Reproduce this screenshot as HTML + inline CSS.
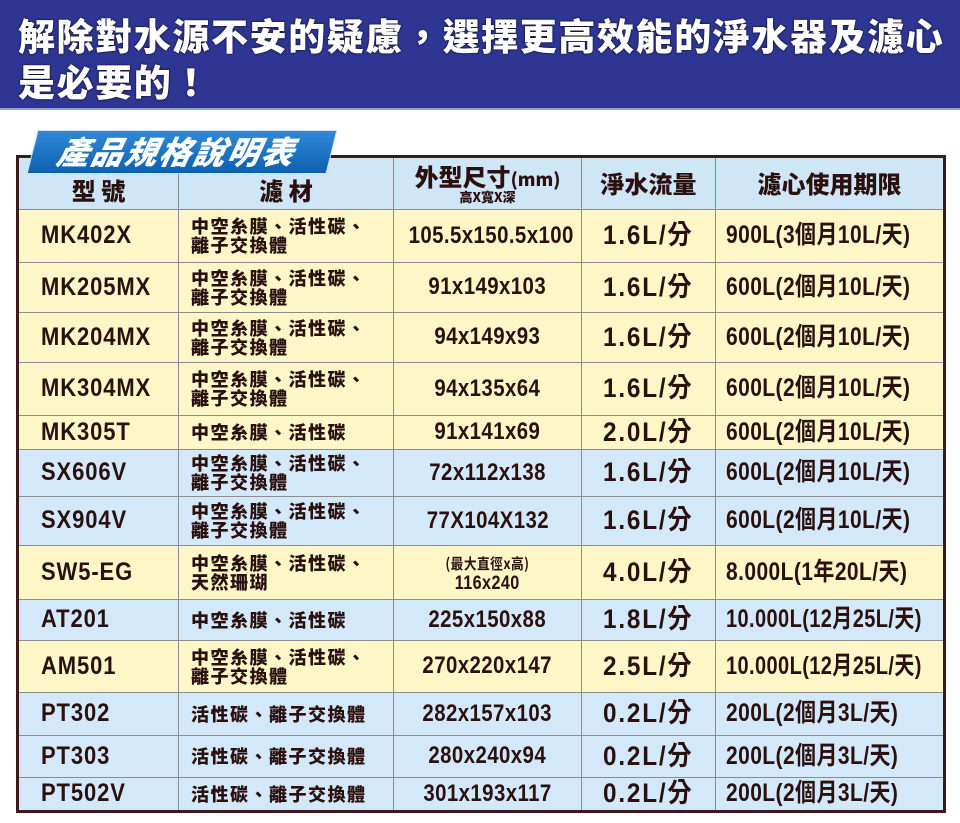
<!DOCTYPE html>
<html><head><meta charset="utf-8">
<style>
*{margin:0;padding:0;box-sizing:border-box}
body{width:960px;height:823px;background:#fff;position:relative;overflow:hidden;font-family:"Liberation Sans","Noto Sans CJK TC",sans-serif;color:#2b1010}
.band{position:absolute;left:0;top:0;width:960px;height:110px;background:#2e3592;border-bottom:2px solid #8fa0d8}
.band div{position:absolute;left:18px;color:#fff;font-family:"Noto Sans CJK TC",sans-serif;font-weight:900;font-size:37px;letter-spacing:1.6px;white-space:nowrap;text-shadow:0 0 2px #000}
.badge{position:absolute;left:32px;top:130px;width:300px;height:44px;background:linear-gradient(#2f8ad8,#0f5fb0);transform:skewX(-14deg);border:1px solid #cfe3f7;z-index:3}
.badgeT{position:absolute;left:58px;top:128px;z-index:4;color:#fff;font-family:"Noto Sans CJK TC",sans-serif;font-weight:900;font-style:italic;font-size:32px;letter-spacing:2px;transform:skewX(-12deg);white-space:nowrap}
table{position:absolute;left:16px;top:155px;width:927px;border-collapse:collapse;border:3px solid #3a1a1a;table-layout:fixed}
td{border:1px solid #8c8c8c;font-weight:bold;white-space:nowrap;overflow:hidden;vertical-align:middle;line-height:1.1}
.h td{background:#cfe6f7;text-align:center;font-family:"Noto Sans CJK TC",sans-serif;font-weight:900;font-size:24px}
.y td{background:#fdf7c8}.b td{background:#d3e8f8}
.m{font-size:25px;padding-left:22px;font-family:"Liberation Sans",sans-serif}
.m span{display:inline-block;transform:scaleX(.88);transform-origin:left center;letter-spacing:1px}
.f{font-size:18px;line-height:19px;padding-left:12px;font-family:"Noto Sans CJK TC",sans-serif;font-weight:900;letter-spacing:1.5px}
.n{text-align:center;font-size:24px}
.n span{display:inline-block;transform:scaleX(.85);letter-spacing:.5px}
.q{text-align:center;font-size:27px;font-family:"Liberation Sans","Noto Sans CJK TC",sans-serif}
.q span{display:inline-block;transform:scaleX(.9);letter-spacing:2px}
.l{font-size:25px;padding-left:10px;font-family:"Liberation Sans","Noto Sans CJK TC",sans-serif}
.l span{display:inline-block;transform:scaleX(.84);transform-origin:left center;letter-spacing:.5px}
.l.w span{transform:scaleX(.8)}
</style></head><body>
<div class="band"><div style="top:7px">解除對水源不安的疑慮，選擇更高效能的淨水器及濾心</div><div style="top:53px">是必要的！</div></div>
<div class="badge"></div><div class="badgeT">產品規格說明表</div>
<table>
<colgroup><col style="width:161px"><col style="width:215px"><col style="width:188px"><col style="width:134px"><col style="width:229px"></colgroup>
<tr class="h" style="height:53px"><td style="padding-top:14px">型 號</td><td style="padding-top:14px">濾 材</td><td style="line-height:22px">外型尺寸<span style="font-size:18px">(mm)</span><br><span style="font-size:13px;line-height:13px;display:block">高X寬X深</span></td><td>淨水流量</td><td>濾心使用期限</td></tr>
<tr class="y" style="height:53px"><td class="m"><span>MK402X</span></td><td class="f">中空糸膜、活性碳、<br>離子交換體</td><td class="n"><span>105.5x150.5x100</span></td><td class="q"><span>1.6L/分</span></td><td class="l"><span>900L(3個月10L/天)</span></td></tr>
<tr class="y" style="height:50px"><td class="m"><span>MK205MX</span></td><td class="f">中空糸膜、活性碳、<br>離子交換體</td><td class="n"><span>91x149x103</span></td><td class="q"><span>1.6L/分</span></td><td class="l"><span>600L(2個月10L/天)</span></td></tr>
<tr class="y" style="height:50px"><td class="m"><span>MK204MX</span></td><td class="f">中空糸膜、活性碳、<br>離子交換體</td><td class="n"><span>94x149x93</span></td><td class="q"><span>1.6L/分</span></td><td class="l"><span>600L(2個月10L/天)</span></td></tr>
<tr class="y" style="height:53px"><td class="m"><span>MK304MX</span></td><td class="f">中空糸膜、活性碳、<br>離子交換體</td><td class="n"><span>94x135x64</span></td><td class="q"><span>1.6L/分</span></td><td class="l"><span>600L(2個月10L/天)</span></td></tr>
<tr class="y" style="height:34px"><td class="m"><span>MK305T</span></td><td class="f">中空糸膜、活性碳</td><td class="n"><span>91x141x69</span></td><td class="q"><span>2.0L/分</span></td><td class="l"><span>600L(2個月10L/天)</span></td></tr>
<tr class="b" style="height:47px"><td class="m"><span>SX606V</span></td><td class="f">中空糸膜、活性碳、<br>離子交換體</td><td class="n"><span>72x112x138</span></td><td class="q"><span>1.6L/分</span></td><td class="l"><span>600L(2個月10L/天)</span></td></tr>
<tr class="b" style="height:49px"><td class="m"><span>SX904V</span></td><td class="f">中空糸膜、活性碳、<br>離子交換體</td><td class="n"><span>77X104X132</span></td><td class="q"><span>1.6L/分</span></td><td class="l"><span>600L(2個月10L/天)</span></td></tr>
<tr class="y" style="height:54px"><td class="m"><span>SW5-EG</span></td><td class="f">中空糸膜、活性碳、<br>天然珊瑚</td><td class="n" style="line-height:18px"><span style="font-size:15px;font-family:'Noto Sans CJK TC',sans-serif">(最大直徑x高)</span><br><span style="font-size:19px">116x240</span></td><td class="q"><span>4.0L/分</span></td><td class="l"><span>8.000L(1年20L/天)</span></td></tr>
<tr class="b" style="height:41px"><td class="m"><span>AT201</span></td><td class="f">中空糸膜、活性碳</td><td class="n"><span>225x150x88</span></td><td class="q"><span>1.8L/分</span></td><td class="l w"><span>10.000L(12月25L/天)</span></td></tr>
<tr class="y" style="height:52px"><td class="m"><span>AM501</span></td><td class="f">中空糸膜、活性碳、<br>離子交換體</td><td class="n"><span>270x220x147</span></td><td class="q"><span>2.5L/分</span></td><td class="l w"><span>10.000L(12月25L/天)</span></td></tr>
<tr class="b" style="height:43px"><td class="m"><span>PT302</span></td><td class="f">活性碳、離子交換體</td><td class="n"><span>282x157x103</span></td><td class="q"><span>0.2L/分</span></td><td class="l"><span>200L(2個月3L/天)</span></td></tr>
<tr class="b" style="height:42px"><td class="m"><span>PT303</span></td><td class="f">活性碳、離子交換體</td><td class="n"><span>280x240x94</span></td><td class="q"><span>0.2L/分</span></td><td class="l"><span>200L(2個月3L/天)</span></td></tr>
<tr class="b" style="height:34px"><td class="m"><span>PT502V</span></td><td class="f">活性碳、離子交換體</td><td class="n"><span>301x193x117</span></td><td class="q"><span>0.2L/分</span></td><td class="l"><span>200L(2個月3L/天)</span></td></tr>
</table>
</body></html>
